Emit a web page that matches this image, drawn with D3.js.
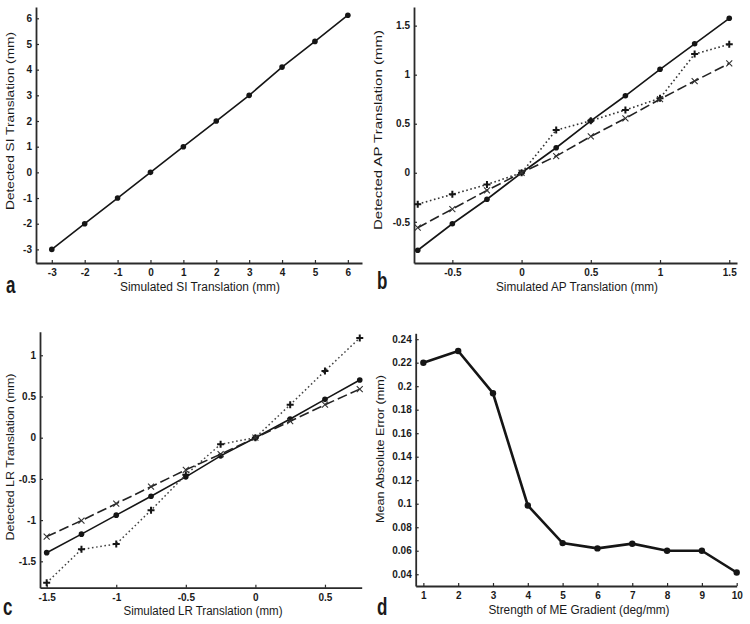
<!DOCTYPE html>
<html>
<head>
<meta charset="utf-8">
<script src="https://cdn.jsdelivr.net/npm/d3@7"></script>
<style>
  html, body { margin: 0; padding: 0; background: #fff; }
  svg { display: block; }
  text { font-family: "Liberation Sans", Arial, sans-serif; fill: #1a1a1a; }
</style>
</head>
<body>
<svg id="chart" width="750" height="624"></svg>
<script>
// ---------------- DATA ----------------
// Panel a: SI translation
const siSimulated = [-3, -2, -1, 0, 1, 2, 3, 4, 5, 6];
const siDetected  = [-3, -2, -1, 0, 1, 2, 3, 4.1, 5.1, 6.12];
const siXTicks = [-3, -2, -1, 0, 1, 2, 3, 4, 5, 6];
const siYTicks = [-3, -2, -1, 0, 1, 2, 3, 4, 5, 6];

// Panel b: AP translation
const apSimulated = [-0.75, -0.5, -0.25, 0, 0.25, 0.5, 0.75, 1, 1.25, 1.5];
const apSolid  = [-0.79, -0.52, -0.27, 0, 0.255, 0.53, 0.785, 1.055, 1.315, 1.575];
const apDotted = [-0.32, -0.22, -0.12, 0, 0.435, 0.53, 0.64, 0.76, 1.21, 1.31];
const apDashed = [-0.56, -0.37, -0.18, 0, 0.17, 0.37, 0.555, 0.75, 0.935, 1.115];
const apXTicks = [-0.5, 0, 0.5, 1, 1.5];
const apYTicks = [-0.5, 0, 0.5, 1, 1.5];

// Panel c: LR translation
const lrSimulated = [-1.5, -1.25, -1, -0.75, -0.5, -0.25, 0, 0.25, 0.5, 0.75];
const lrSolid  = [-1.395, -1.17, -0.94, -0.71, -0.475, -0.22, 0, 0.227, 0.465, 0.70];
const lrDotted = [-1.76, -1.355, -1.29, -0.88, -0.45, -0.08, 0, 0.40, 0.81, 1.21];
const lrDashed = [-1.20, -1.005, -0.80, -0.595, -0.39, -0.20, 0, 0.20, 0.40, 0.59];
const lrXTicks = [-1.5, -1, -0.5, 0, 0.5];
const lrYTicks = [-1.5, -1, -0.5, 0, 0.5, 1];

// Panel d: ME gradient strength vs mean absolute error
const gradStrength = [1, 2, 3, 4, 5, 6, 7, 8, 9, 10];
const meanAbsError = [0.22, 0.23, 0.194, 0.0985, 0.0665, 0.062, 0.066, 0.060, 0.060, 0.0415];
const gradXTicks = [1, 2, 3, 4, 5, 6, 7, 8, 9, 10];
const errYTicks = [0.04, 0.06, 0.08, 0.1, 0.12, 0.14, 0.16, 0.18, 0.2, 0.22, 0.24];

const titles = {
  a: ["Simulated SI Translation (mm)", "Detected SI Translation (mm)"],
  b: ["Simulated AP Translation (mm)", "Detected AP Translation (mm)"],
  c: ["Simulated LR Translation (mm)", "Detected LR Translation (mm)"],
  d: ["Strength of ME Gradient (deg/mm)", "Mean Absolute Error (mm)"]
};

// ---------------- DRAWING ----------------
const svg = d3.select("#chart");
const ink = "#151515";

function fmt(v) { return String(+v.toFixed(3)); }

function panel(opt) {
  const x = d3.scaleLinear().domain(opt.xDomain).range([opt.left, opt.right]);
  const y = d3.scaleLinear().domain(opt.yDomain).range([opt.bottom, opt.top]);
  const g = svg.append("g");

  const xAxis = d3.axisBottom(x).tickValues(opt.xTicks).tickFormat(fmt)
    .tickSizeInner(-3).tickSizeOuter(0).tickPadding(6);
  const yAxis = d3.axisLeft(y).tickValues(opt.yTicks).tickFormat(fmt)
    .tickSizeInner(-3).tickSizeOuter(0).tickPadding(4);

  const gx = g.append("g").attr("transform", `translate(0,${opt.bottom})`).call(xAxis);
  const gy = g.append("g").attr("transform", `translate(${opt.left},0)`).call(yAxis);
  [gx, gy].forEach(a => {
    a.select(".domain").attr("stroke", "#2a2a2a").attr("stroke-width", 1.8);
    a.selectAll(".tick line").attr("stroke", "#2a2a2a").attr("stroke-width", 1.2);
    a.selectAll(".tick text").attr("font-size", 10).attr("font-weight", "bold")
      .attr("fill", "#222").attr("font-family", "'Liberation Sans', Arial, sans-serif");
  });
  gx.selectAll(".tick text").attr("dy", "0.71em");

  // x title
  g.append("text").attr("x", opt.xt[0]).attr("y", opt.xt[1]).attr("text-anchor", "middle")
    .attr("font-size", 12).attr("textLength", opt.xt[2]).attr("lengthAdjust", "spacingAndGlyphs")
    .text(opt.titles[0]);
  // y title
  g.append("text").attr("transform", `translate(${opt.yt[0]},${opt.yt[1]}) rotate(-90)`)
    .attr("text-anchor", "middle").attr("font-size", 11.5)
    .attr("textLength", opt.yt[2]).attr("lengthAdjust", "spacingAndGlyphs")
    .text(opt.titles[1]);
  // panel letter
  g.append("text").attr("transform", `translate(${opt.letter[0]},${opt.letter[1]}) scale(1,1.45)`)
    .attr("font-size", 17).attr("font-weight", "bold").attr("fill", "#111")
    .text(opt.letterText);

  opt.series.forEach(s => {
    const pts = opt.xs.map((v, i) => [x(v), y(s.values[i])]);
    g.append("path").attr("d", d3.line()(pts)).attr("fill", "none")
      .attr("stroke", s.color || ink).attr("stroke-width", s.width)
      .attr("stroke-dasharray", s.dash || null).attr("stroke-linecap", s.cap || "butt");
    const m = g.append("g");
    pts.forEach(p => {
      if (s.marker === "dot") {
        m.append("circle").attr("cx", p[0]).attr("cy", p[1]).attr("r", s.r || 3).attr("fill", ink);
      } else if (s.marker === "plus") {
        const r = 3.5;
        m.append("path").attr("d", `M${p[0]-r},${p[1]}H${p[0]+r}M${p[0]},${p[1]-r}V${p[1]+r}`)
          .attr("stroke", ink).attr("stroke-width", 2);
      } else if (s.marker === "x") {
        const r = 3;
        m.append("path").attr("d", `M${p[0]-r},${p[1]-r}L${p[0]+r},${p[1]+r}M${p[0]-r},${p[1]+r}L${p[0]+r},${p[1]-r}`)
          .attr("stroke", "#333").attr("stroke-width", 1.1);
      }
    });
  });
}

panel({
  left: 36, right: 362, top: 7, bottom: 263,
  xDomain: [-3.48, 6.43], yDomain: [-3.53, 6.44],
  xTicks: siXTicks, yTicks: siYTicks,
  titles: titles.a, xt: [200, 291, 160], yt: [14, 121, 178],
  letter: [6, 293], letterText: "a",
  xs: siSimulated,
  series: [{ values: siDetected, width: 1.6, marker: "dot", r: 2.8 }]
});

panel({
  left: 414, right: 737, top: 7, bottom: 263,
  xDomain: [-0.777, 1.556], yDomain: [-0.92, 1.69],
  xTicks: apXTicks, yTicks: apYTicks,
  titles: titles.b, xt: [577, 291, 162], yt: [382, 130, 200],
  letter: [377, 289], letterText: "b",
  xs: apSimulated,
  series: [
    { values: apSolid, width: 1.6, marker: "dot", r: 2.8 },
    { values: apDotted, width: 1.6, marker: "plus", dash: "1.6,2.6", color: "#333" },
    { values: apDashed, width: 1.6, marker: "x", dash: "10,4", color: "#222" }
  ]
});

panel({
  left: 40, right: 361.7, top: 331.7, bottom: 587.7,
  xDomain: [-1.548, 0.764], yDomain: [-1.82, 1.286],
  xTicks: lrXTicks, yTicks: lrYTicks,
  titles: titles.c, xt: [203, 615, 159], yt: [14, 457, 167],
  letter: [3, 615], letterText: "c",
  xs: lrSimulated,
  series: [
    { values: lrSolid, width: 1.6, marker: "dot", r: 2.8 },
    { values: lrDotted, width: 1.5, marker: "plus", dash: "1.6,2.6", color: "#444" },
    { values: lrDashed, width: 1.6, marker: "x", dash: "10,4", color: "#222" }
  ]
});

panel({
  left: 415.7, right: 736.7, top: 333.3, bottom: 586,
  xDomain: [0.78, 10], yDomain: [0.030, 0.245],
  xTicks: gradXTicks, yTicks: errYTicks,
  titles: titles.d, xt: [579, 614, 181], yt: [384, 449, 148],
  letter: [377, 615], letterText: "d",
  xs: gradStrength,
  series: [{ values: meanAbsError, width: 2.6, marker: "dot", r: 3.2 }]
});
</script>
</body>
</html>
